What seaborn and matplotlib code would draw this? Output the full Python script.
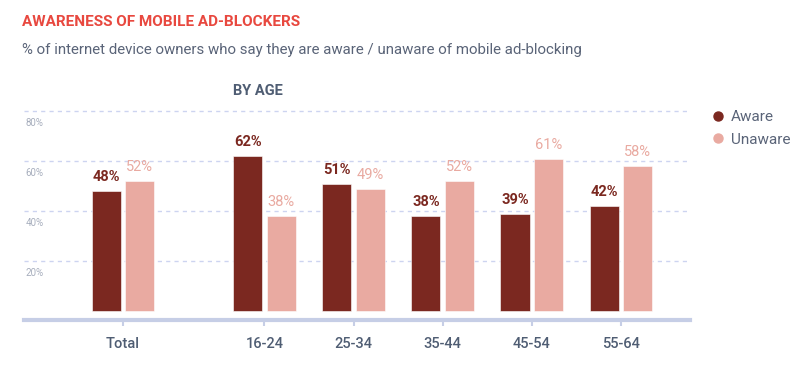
import matplotlib
matplotlib.use('Agg')
import matplotlib.pyplot as plt
from matplotlib.lines import Line2D
import numpy as np
import pandas as pd
import seaborn as sns

# data
groups = ["Total", "16-24", "25-34", "35-44", "45-54", "55-64"]
aware = [48, 62, 51, 38, 39, 42]
unaware = [52, 38, 49, 52, 61, 58]
grid_vals = [20, 40, 60, 80]

aware_col = "#7b2820"
unaware_col = "#e9aaa1"
axis_col = "#c6cee6"

sns.set_style("white")
plt.rcParams['font.family'] = ['Roboto', 'DejaVu Sans']

# Total sits apart from the age groups
x_pos = [0.0] + [1.59 + i for i in range(len(groups) - 1)]

df = pd.DataFrame({
    "x": x_pos * 2,
    "status": ["Aware"] * len(groups) + ["Unaware"] * len(groups),
    "pct": aware + unaware,
})

fig = plt.figure(figsize=(8, 3.73), dpi=100)
ax = fig.add_axes([24/800, (373-320)/373, (690-24)/800, (320-100)/373])

sns.barplot(data=df, x="x", y="pct", hue="status", native_scale=True,
            palette={"Aware": aware_col, "Unaware": unaware_col},
            width=0.75, gap=0.13, saturation=1, legend=False, ax=ax,
            edgecolor="white", linewidth=0.4)

ax.set_xlim(-1.11, 6.367)
ax.set_ylim(-3.6, 84.4)

# grid + hanging y labels
ax.set_yticks(grid_vals)
ax.set_yticklabels([])
ax.grid(axis='y', linestyle=(0, (3, 3)), color="#cdd4f0", linewidth=1)
ax.set_axisbelow(True)
for v in grid_vals:
    ax.annotate(f"{v}%", xy=(0, v), xycoords=ax.get_yaxis_transform(),
                xytext=(1, -5), textcoords="offset points", va="top", ha="left",
                fontsize=7, color="#a7aebd")

for s in ["top", "left", "right"]:
    ax.spines[s].set_visible(False)
ax.spines["bottom"].set_color(axis_col)
ax.spines["bottom"].set_linewidth(3)

ax.set_xticks(x_pos)
ax.set_xticklabels(groups, fontsize=10.5, color="#4f5d73", fontweight="medium")
ax.tick_params(axis='x', bottom=True, length=4, width=1.5, color=axis_col, pad=8)
ax.tick_params(axis='y', left=False, length=0)
ax.set_xlabel("")
ax.set_ylabel("")

for cont, col, wt in zip(ax.containers, [aware_col, unaware_col], ["bold", "normal"]):
    ax.bar_label(cont, fmt="%d%%", padding=5, color=col, fontsize=10.5, fontweight=wt)

fig.text(22/800, 1 - 22/373, "AWARENESS OF MOBILE AD-BLOCKERS", color="#e8483f",
         fontsize=11, fontweight="bold", va="center", ha="left")
fig.text(22/800, 1 - 50/373,
         "% of internet device owners who say they are aware / unaware of mobile ad-blocking",
         color="#5a6478", fontsize=10.8, va="center", ha="left")
fig.text(233/800, 1 - 91/373, "BY AGE", color="#4f5d73", fontsize=10.5,
         fontweight="bold", va="center", ha="left")

handles = [Line2D([], [], marker='o', ls='', color=aware_col, markersize=6.5),
           Line2D([], [], marker='o', ls='', color=unaware_col, markersize=6.5)]
fig.legend(handles, ["Aware", "Unaware"], loc="upper left",
           bbox_to_anchor=(703/800, 1 - 104/373), frameon=False, fontsize=11,
           labelcolor="#5a6478", handletextpad=0.2, labelspacing=0.55,
           handlelength=1.2, borderaxespad=0)

fig.savefig("out.png", dpi=100)
